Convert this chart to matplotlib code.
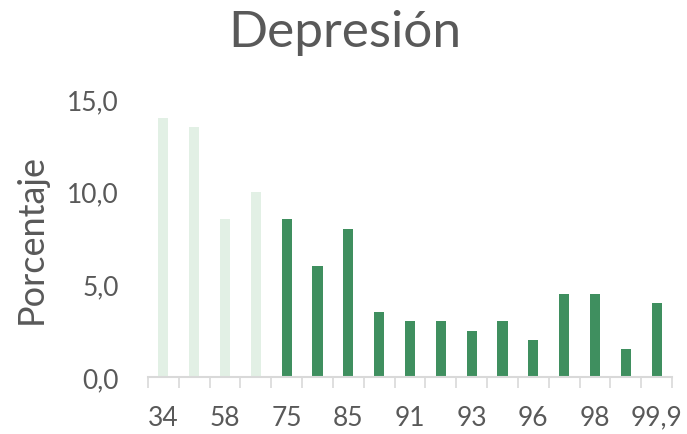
import numpy as np
from matplotlib import pyplot as plt

etiquetas = ["34", "", "58", "", "75", "", "85", "", "91", "", "93", "", "96", "", "98", "", "99,9"]
valores = [14.0, 13.5, 8.5, 10.0, 8.5, 6.0, 8.0, 3.5, 3.0, 3.0, 2.5, 3.0, 2.0, 4.5, 4.5, 1.5, 4.0]
claros = 4  # primeras barras en verde claro

verde = "#3F8F5F"
verde_claro = "#E2F0E5"
gris = "#595959"

plt.rcParams['font.family'] = ['Lato', 'DejaVu Sans']

fig = plt.figure(figsize=(6.87, 4.35), dpi=100)
ax = fig.add_axes([148/687, 1-378/435, 524/687, 278/435])

x = np.arange(len(valores))
colores = [verde_claro if i < claros else verde for i in range(len(valores))]
ax.bar(x, valores, width=0.33, color=colores)

ax.set_xlim(-0.5, len(valores) - 0.5)
ax.set_ylim(0, 15)
ax.set_yticks([0, 5, 10, 15])
ax.set_yticklabels(["0,0", "5,0", "10,0", "15,0"])

pos = [i for i, e in enumerate(etiquetas) if e]
ax.set_xticks(pos)
ax.set_xticklabels([etiquetas[i] for i in pos])
ax.set_xticks(np.arange(-0.5, len(valores)), minor=True)
ax.tick_params(axis='x', which='major', length=0, pad=20, labelsize=19, colors=gris)
ax.tick_params(axis='x', which='minor', length=8, width=1.2, color="#D9D9D9")
ax.tick_params(axis='y', length=0, pad=21, labelsize=19, colors=gris)

for s in ["top", "right", "left"]:
    ax.spines[s].set_visible(False)
ax.spines["bottom"].set_color("#D9D9D9")
ax.spines["bottom"].set_linewidth(1.5)

# etiqueta del eje y
ax.set_ylabel("Porcentaje", fontsize=26, color=gris)
ax.yaxis.set_label_coords(-100/524, (378 - 239) / 278)
fig.text(345/687, 1 - 33/435, "Depresión", fontsize=37, color=gris, ha="center", va="center")

fig.savefig("out.png")
